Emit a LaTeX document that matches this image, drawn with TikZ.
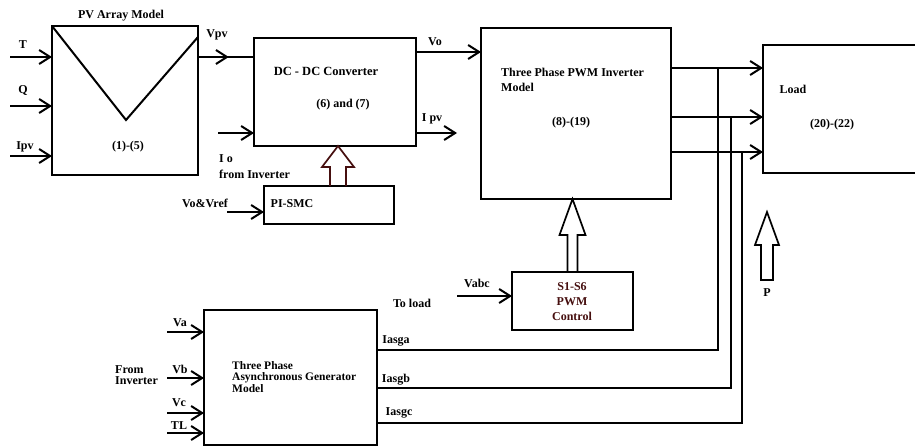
\documentclass[tikz,border=0pt]{standalone}
\usepackage{fontspec}
\setmainfont{Liberation Serif}
\usetikzlibrary{arrows.meta,calc}
\definecolor{darkred}{RGB}{70,15,15}
\begin{document}
\begin{tikzpicture}[x=1pt,y=-1pt,
 box/.style={draw,line width=2pt,inner sep=0pt,outer sep=0pt,anchor=north west},
 lbl/.style={font=\bfseries\fontsize{12}{15}\selectfont,inner sep=0pt},
 ln/.style={line width=2pt},
 arr/.style={ln,-{Straight Barb[length=11pt,width=14pt]}},
 hollow/.style={line width=1.7pt,line join=miter}]
\useasboundingbox (0,0) rectangle (915,447);
\clip (0,0) rectangle (915,447);
% boxes
\node[box,minimum width=146pt,minimum height=149pt] (pv) at (52,26) {};
\node[box,minimum width=162pt,minimum height=108pt] (dc) at (254,38) {};
\node[box,minimum width=130pt,minimum height=38pt] (pismc) at (264,186) {};
\node[box,minimum width=190pt,minimum height=171pt] (inv) at (481,28) {};
\node[box,minimum width=160pt,minimum height=128pt] (load) at (763,45) {};
\node[box,minimum width=121pt,minimum height=58pt] (pwm) at (512,272) {};
\node[box,minimum width=173pt,minimum height=135pt] (gen) at (204,310) {};
% labels
\node[lbl] (tpv) at (121,16) {PV Array Model};
\node[lbl] (lT) at (23,45) {T};
\node[lbl] (lQ) at (23,90) {Q};
\node[lbl] (lIpv) at (25,147) {Ipv};
\node[lbl] (n15) at (128,147) {(1)-(5)};
\node[lbl] (lVpv) at (217,35) {Vpv};
\node[lbl,font=\bfseries\fontsize{12.5}{15}\selectfont] (tdc) at (326,71) {DC - DC Converter};
\node[lbl] (n67) at (343,105) {(6) and (7)};
\node[lbl,anchor=west] (lIo) at (219,159) {I o};
\node[lbl,anchor=west] (lfi) at (219,174) {from Inverter};
\node[lbl] (lVo) at (435,42) {Vo};
\node[lbl] (lIpvo) at (432,119) {I pv};
\node[lbl] (tpi) at (292,204) {PI-SMC};
\node[lbl] (lvr) at (205,203) {Vo\&Vref};
\node[lbl,anchor=west,align=left] (tinv) at (501,80) {Three Phase PWM Inverter\\Model};
\node[lbl] (n819) at (571,123) {(8)-(19)};
\node[lbl] (tload) at (793,89) {Load};
\node[lbl] (n2022) at (832,125) {(20)-(22)};
\node[lbl,align=center,text=darkred] (tpwm) at (572,302) {S1-S6\\PWM\\Control};
\node[lbl] (lvabc) at (477,283) {Vabc};
\node[lbl] (ltl) at (412,303) {To load};
\node[lbl] (la) at (396,341) {Iasga};
\node[lbl] (lb) at (396,380) {Iasgb};
\node[lbl] (lc) at (399,413) {Iasgc};
\node[lbl] (lP) at (767,293) {P};
\node[lbl,anchor=west,align=left,font=\bfseries\fontsize{11.5}{11.5}\selectfont] (tgen) at (232,377) {Three Phase\\Asynchronous Generator\\Model};
\node[lbl] (lVa) at (180,323) {Va};
\node[lbl] (lVb) at (180,369) {Vb};
\node[lbl] (lVc) at (179,403) {Vc};
\node[lbl] (lTL) at (179,426) {TL};
\node[lbl,anchor=west,align=left,font=\bfseries\fontsize{12}{11.5}\selectfont] (lfrom) at (115,375) {From\\Inverter};
% PV inputs
\coordinate (cT) at (10,57);
\coordinate (cQ) at (10,106);
\coordinate (cI) at (10,156);
\draw[arr] (cT) -- (cT -| pv.west);
\draw[arr] (cQ) -- (cQ -| pv.west);
\draw[arr] (cI) -- (cI -| pv.west);
% V symbol
\draw[ln,line join=miter] (pv.north west) -- (126,120) -- ([yshift=-11pt]pv.north east);
% Vpv
\coordinate (vpv) at ([yshift=-31pt]pv.north east);
\draw[ln] (vpv) -- (vpv -| dc.west);
\draw[arr] (vpv) -- ($(vpv)!0.55!(vpv -| dc.west)$);
% Io
\coordinate (io) at (218,133);
\draw[arr] (io) -- (io -| dc.west);
% Vo
\coordinate (vo) at ([yshift=-14pt]dc.north east);
\draw[arr] (vo) -- (vo -| inv.west);
% Ipv out
\coordinate (ipo) at ([yshift=-95pt]dc.north east);
\coordinate (ipe) at (457,133);
\draw[arr] (ipo) -- (ipe);
% Vo&Vref
\coordinate (vr) at (227,212);
\draw[arr] (vr) -- (vr -| pismc.west);
% hollow PI-SMC -> DC
\coordinate (ha) at ([xshift=9pt]pismc.north);
\coordinate (hat) at (ha |- dc.south);
\draw[hollow,draw=darkred] ($(ha)+(-8,0)$) -- ($(hat)+(-8,21)$) -- ($(hat)+(-16,21)$) -- (hat) -- ($(hat)+(16,21)$) -- ($(hat)+(8,21)$) -- ($(ha)+(8,0)$);
% inverter outputs
\coordinate (o1) at ([yshift=-40pt]inv.north east);
\coordinate (o2) at ([yshift=-89pt]inv.north east);
\coordinate (o3) at ([yshift=-124pt]inv.north east);
\draw[arr] (o1) -- (o1 -| load.west);
\draw[arr] (o2) -- (o2 -| load.west);
\draw[arr] (o3) -- (o3 -| load.west);
% generator outputs to load lines
\coordinate (g1) at ([yshift=-40pt]gen.north east);
\coordinate (g2) at ([yshift=-78pt]gen.north east);
\coordinate (g3) at ([yshift=-113pt]gen.north east);
\coordinate (ja) at (718,0);
\coordinate (jb) at (731,0);
\coordinate (jc) at (742,0);
\draw[ln] (g1) -| (o1 -| ja);
\draw[ln] (g2) -| (o2 -| jb);
\draw[ln] (g3) -| (o3 -| jc);
% Vabc
\coordinate (vabc) at (457,296);
\draw[arr] (vabc) -- (vabc -| pwm.west);
% hollow PWM -> inverter
\coordinate (hb) at (pwm.north);
\coordinate (hbt) at (hb |- inv.south);
\draw[hollow] ($(hb)+(-5,0)$) -- ($(hbt)+(-5,36)$) -- ($(hbt)+(-13,36)$) -- (hbt) -- ($(hbt)+(13,36)$) -- ($(hbt)+(5,36)$) -- ($(hb)+(5,0)$);
% P arrow
\coordinate (pt) at (767,212);
\draw[hollow] (pt) -- ($(pt)+(12,33)$) -- ($(pt)+(6,33)$) -- ($(pt)+(6,68)$) -- ($(pt)+(-6,68)$) -- ($(pt)+(-6,33)$) -- ($(pt)+(-12,33)$) -- cycle;
% generator inputs
\coordinate (va) at (167,332);
\coordinate (vb) at (167,378);
\coordinate (vc) at (167,413);
\coordinate (tl) at (167,433);
\draw[arr] (va) -- (va -| gen.west);
\draw[arr] (vb) -- (vb -| gen.west);
\draw[arr] (vc) -- (vc -| gen.west);
\draw[arr] (tl) -- (tl -| gen.west);
\end{tikzpicture}
\end{document}
